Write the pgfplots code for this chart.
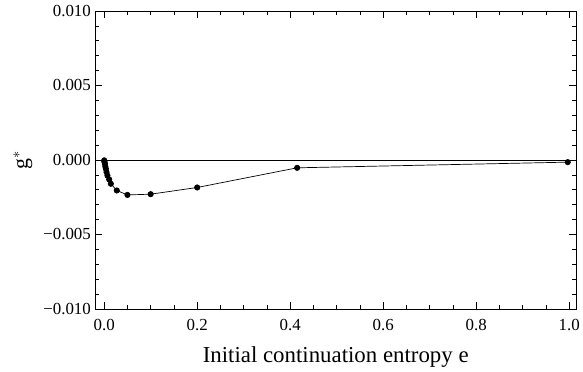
\documentclass[border=0pt]{standalone}
\usepackage{fontspec}
\setmainfont{Liberation Serif}
\usepackage{pgfplots}
\pgfplotsset{compat=1.18}
\begin{document}
\begin{tikzpicture}
\begin{axis}[
  scale only axis,
  width=484pt, height=300pt,
  xmin=-0.019, xmax=1.015,
  ymin=-0.010, ymax=0.010,
  xtick={0,0.2,0.4,0.6,0.8,1.0},
  xticklabels={0.0,0.2,0.4,0.6,0.8,1.0},
  minor xtick={0.05,0.1,0.15,0.25,0.3,0.35,0.45,0.5,0.55,0.65,0.7,0.75,0.85,0.9,0.95},
  ytick={-0.010,-0.005,0,0.005,0.010},
  yticklabels={−0.010,−0.005,0.000,0.005,0.010},
  minor ytick={-0.009,-0.008,-0.007,-0.006,-0.004,-0.003,-0.002,-0.001,0.001,0.002,0.003,0.004,0.006,0.007,0.008,0.009},
  scaled y ticks=false,
  tick align=inside,
  major tick length=7pt,
  minor tick length=4pt,
  tick style={black, line width=0.5pt},
  axis line style={black, line width=0.6pt},
  ticklabel style={font=\fontsize{17}{20}\selectfont},
  xticklabel style={anchor=base, yshift=-22pt},
  yticklabel style={xshift=-1pt},
  xlabel={Initial continuation entropy e},
  ylabel={g$^*$},
  xlabel style={font=\fontsize{23}{27}\selectfont, at={(axis description cs:0.5,0)}, anchor=base, yshift=-54pt},
  ylabel style={font=\fontsize{22}{26}\selectfont, at={(axis description cs:0,0.5)}, anchor=center, yshift=73pt},
  clip=false,
]
\draw[black, line width=0.6pt] (axis cs:-0.019,0) -- (axis cs:1.015,0);
\addplot[black, line width=0.7pt, mark=*, mark size=2.7pt] coordinates {
(0,-0.00003)
(0.0005,-0.0001)
(0.001,-0.00018)
(0.0015,-0.00027)
(0.0025,-0.00045)
(0.0036,-0.0006)
(0.005,-0.00082)
(0.007,-0.00105)
(0.0107,-0.00131)
(0.0143,-0.0016)
(0.0271,-0.00205)
(0.05,-0.00235)
(0.1,-0.0023)
(0.2,-0.00185)
(0.415,-0.00053)
(0.997,-0.00015)
};
\end{axis}
\useasboundingbox (-96pt,-63pt) rectangle (487pt,311pt);
\end{tikzpicture}
\end{document}
